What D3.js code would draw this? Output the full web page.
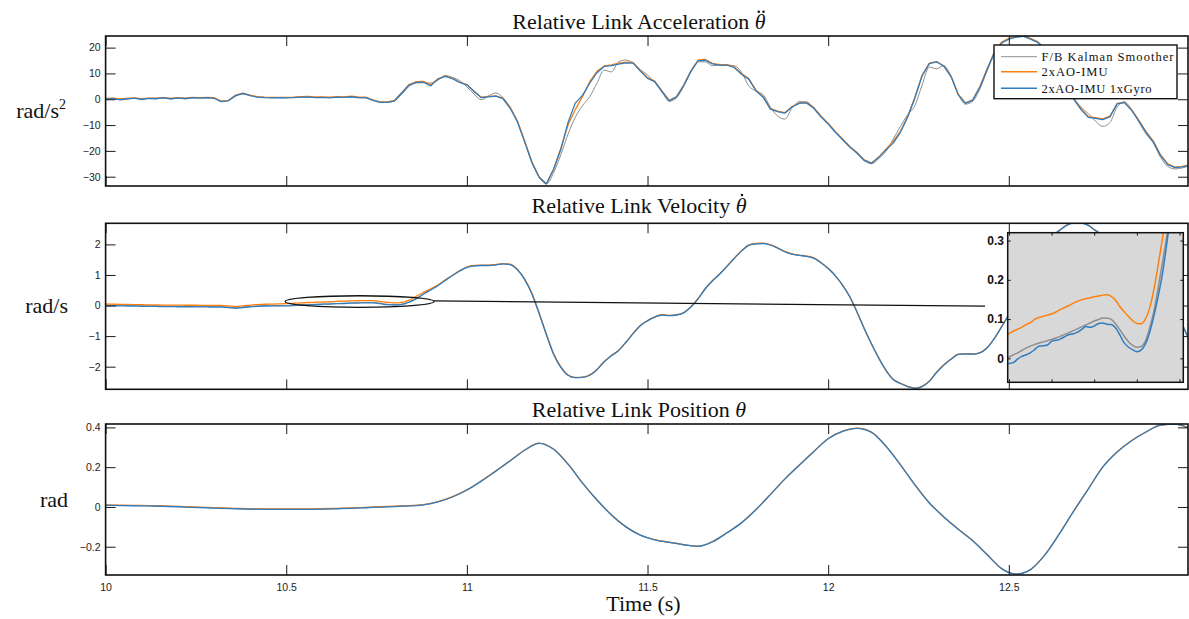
<!DOCTYPE html>
<html>
<head>
<meta charset="utf-8">
<script src="https://cdn.jsdelivr.net/npm/d3@7"></script>
<style>
  html, body { margin: 0; padding: 0; background: #fff; }
  svg { display: block; }
</style>
</head>
<body>
<svg id="chart" width="1189" height="619"></svg>
<script>
// ---------------- data ----------------
// sample times (s)
const accTime = d3.range(151).map(i => +(10 + i * 0.02).toFixed(2));
const velTime = [
  ...d3.range(24).map(i => +(10 + i * 0.02).toFixed(2)),
  ...d3.range(45).map(i => +(10.48 + i * 0.01).toFixed(2)),
  ...d3.range(104).map(i => +(10.94 + i * 0.02).toFixed(2))
];
const posTime = d3.range(76).map(i => +(10 + i * 0.04).toFixed(2));

// relative link acceleration (rad/s^2)
const accKalman = [
  0.2, 0.2, 0.2, 0.3, 0.3, 0.3, 0.3, 0.4, 0.4, 0.4,
  0.4, 0.4, 0.5, 0.5, 0.5, 0.4, -0.8, -0.4, 1.2, 2.0,
  1.5, 0.9, 0.7, 0.6, 0.6, 0.6, 0.7, 0.7, 0.7, 0.7,
  0.7, 0.7, 0.7, 0.7, 0.7, 0.6, 0.5, -0.3, -1.1, -1.2,
  -0.6, 2.0, 5.0, 6.3, 6.4, 6.3, 7.4, 9.2, 8.5, 7.2,
  4.8, 2.0, -0.2, 1.3, 2.4, 0.6, -3.3, -8.8, -16.5, -24.5,
  -30.2, -32.8, -28.5, -21.5, -13.5, -7.0, -2.5, 1.0, 6.2, 11.3,
  10.6, 14.5, 15.2, 14.0, 11.5, 9.4, 6.5, 2.8, -0.8, 0.5,
  5.0, 10.5, 14.5, 14.5, 13.0, 13.2, 13.2, 13.0, 10.5, 5.2,
  3.2, 1.8, -3.0, -6.5, -7.7, -3.5, -0.9, -1.0, -3.2, -6.5,
  -9.4, -12.6, -15.5, -18.6, -21.0, -23.8, -25.0, -23.0, -20.2, -15.5,
  -10.5, -6.0, -2.5, 5.5, 12.5, 11.8, 13.0, 9.0, 2.0, -1.9,
  -0.8, 4.0, 11.0, 17.5, 21.5, 23.3, 24.1, 24.3, 23.3, 22.0,
  19.5, 15.5, 10.5, 5.8, 0.5, -3.0, -5.5, -8.5, -10.5, -9.0,
  -3.0, -1.0, -4.0, -8.8, -13.5, -17.0, -22.5, -26.0, -27.0, -26.6,
  -25.8
];
const accImu = [
  0.3, 0.4, 0.1, 0.3, 0.5, 0.2, 0.4, 0.4, 0.6, 0.3,
  0.6, 0.4, 0.7, 0.6, 0.7, 0.6, -0.7, -0.4, 1.6, 2.4,
  1.6, 1.0, 0.8, 0.7, 0.7, 0.7, 0.8, 1.0, 1.1, 0.9,
  0.9, 0.8, 1.0, 0.9, 1.2, 0.9, 0.8, -0.2, -1.0, -1.0,
  -0.4, 2.6, 5.7, 6.8, 6.9, 5.6, 7.9, 9.1, 8.1, 6.6,
  5.7, 3.1, 0.8, 1.1, 1.3, 0.4, -3.1, -8.4, -16.2, -24.3,
  -30.1, -32.7, -27.0, -19.0, -10.0, -4.0, 1.0, 6.8, 10.8, 12.9,
  13.3, 14.0, 14.4, 14.3, 11.2, 8.4, 7.0, 3.2, -0.4, 1.0,
  5.5, 11.0, 15.2, 15.4, 13.9, 13.4, 13.4, 12.5, 10.0, 8.0,
  3.6, 1.0, -3.5, -4.6, -5.2, -2.8, -1.4, -1.2, -3.2, -6.5,
  -9.3, -12.5, -15.4, -18.3, -20.6, -23.5, -24.7, -22.4, -19.3, -16.2,
  -12.4, -6.6, 0.8, 9.4, 14.0, 14.6, 13.0, 9.0, 2.0, -1.4,
  -0.2, 4.9, 11.8, 18.3, 22.1, 23.6, 24.3, 24.6, 23.6, 22.3,
  19.8, 15.8, 10.8, 5.8, 0.3, -3.7, -6.7, -7.1, -7.6, -6.5,
  -1.6, -1.1, -4.0, -8.2, -12.5, -16.2, -21.5, -25.0, -26.3, -26.0,
  -25.4
];
const accImuGyro = [
  0.0, 0.3, -0.2, 0.1, 0.4, -0.1, 0.3, 0.2, 0.6, 0.1,
  0.5, 0.2, 0.6, 0.4, 0.6, 0.4, -0.9, -0.6, 1.4, 2.3,
  1.4, 0.8, 0.6, 0.5, 0.6, 0.5, 0.6, 0.8, 0.9, 0.6,
  0.7, 0.5, 0.8, 0.7, 1.0, 0.6, 0.6, -0.4, -1.2, -1.2,
  -0.6, 2.4, 5.5, 6.5, 6.6, 5.2, 7.8, 8.9, 8.0, 6.5,
  5.6, 3.0, 0.6, 0.9, 1.2, 0.2, -3.5, -8.8, -16.5, -24.5,
  -30.2, -32.8, -27.2, -19.5, -9.0, -1.5, 1.5, 6.2, 10.3, 12.7,
  13.0, 13.6, 14.1, 14.0, 10.9, 8.1, 6.8, 3.0, -0.6, 0.8,
  5.2, 10.8, 14.9, 15.1, 13.7, 13.2, 13.2, 12.3, 9.7, 7.8,
  3.3, 0.8, -3.8, -4.8, -5.4, -3.0, -1.6, -1.4, -3.5, -6.8,
  -9.6, -12.8, -15.7, -18.5, -20.8, -23.7, -24.8, -22.5, -19.6, -17.0,
  -12.8, -7.0, 0.5, 9.0, 13.8, 14.5, 12.8, 8.8, 1.7, -1.6,
  -0.4, 4.6, 11.5, 18.0, 21.8, 23.3, 24.1, 24.4, 23.3, 22.0,
  19.5, 15.5, 10.5, 5.5, 0.0, -4.0, -7.0, -7.4, -7.9, -6.8,
  -1.8, -1.3, -4.3, -8.5, -12.8, -16.5, -21.8, -25.3, -26.5, -26.2,
  -25.6
];

// relative link velocity (rad/s)
const velKalman = [
  0.020, 0.015, 0.010, 0.005, 0.000, -0.005, -0.010, -0.012, -0.015, -0.018,
  -0.020, -0.022, -0.024, -0.026, -0.028, -0.030, -0.032, -0.050, -0.068, -0.048,
  -0.028, -0.015, -0.008, -0.006,
  -0.005, -0.002, 0.003, 0.009, 0.014, 0.020, 0.026, 0.031, 0.035, 0.039,
  0.042, 0.045, 0.048, 0.052, 0.056, 0.061, 0.065, 0.070, 0.075, 0.080,
  0.085, 0.090, 0.095, 0.099, 0.103, 0.103, 0.099, 0.088, 0.073, 0.057,
  0.043, 0.033, 0.028, 0.030, 0.044, 0.077, 0.120, 0.180, 0.243, 0.310,
  0.380, 0.450, 0.520, 0.590, 0.660,
  0.82, 0.98, 1.13, 1.25, 1.30, 1.31, 1.31, 1.33, 1.36, 1.34,
  1.17, 0.85, 0.38, -0.26, -0.95, -1.59, -2.02, -2.28, -2.36, -2.35,
  -2.28, -2.10, -1.84, -1.64, -1.47, -1.21, -0.92, -0.66, -0.50, -0.38,
  -0.31, -0.33, -0.31, -0.24, -0.05, 0.22, 0.55, 0.81, 1.03, 1.28,
  1.54, 1.78, 1.97, 2.02, 2.03, 1.98, 1.88, 1.76, 1.68, 1.64,
  1.61, 1.55, 1.40, 1.21, 0.97, 0.66, 0.28, -0.22, -0.76, -1.26,
  -1.72, -2.12, -2.42, -2.55, -2.65, -2.71, -2.65, -2.48, -2.19, -1.95,
  -1.76, -1.60, -1.58, -1.59, -1.55, -1.38, -1.08, -0.70, -0.30, 0.12,
  0.60, 1.10, 1.60, 2.00, 2.28, 2.45, 2.62, 2.70, 2.70, 2.62,
  2.45, 2.30, 2.15, 2.05, 2.00, 1.95, 1.82, 1.60, 1.28, 0.90,
  0.42, -0.10, -0.62, -1.15
];
const velImu = [
  0.050, 0.045, 0.040, 0.035, 0.030, 0.025, 0.020, 0.018, 0.015, 0.013,
  0.012, 0.010, 0.010, 0.008, 0.006, 0.004, 0.002, -0.015, -0.030, -0.010,
  0.015, 0.030, 0.042, 0.048,
  0.052, 0.057, 0.063, 0.069, 0.074, 0.079, 0.086, 0.091, 0.099, 0.104,
  0.107, 0.110, 0.113, 0.118, 0.124, 0.129, 0.134, 0.140, 0.145, 0.149,
  0.152, 0.154, 0.157, 0.159, 0.161, 0.162, 0.158, 0.148, 0.132, 0.119,
  0.107, 0.096, 0.089, 0.088, 0.100, 0.128, 0.175, 0.238, 0.305, 0.370,
  0.430, 0.490, 0.550, 0.610, 0.670,
  0.84, 0.99, 1.14, 1.26, 1.31, 1.32, 1.32, 1.34, 1.37, 1.35,
  1.18, 0.87, 0.40, -0.24, -0.93, -1.57, -2.00, -2.27, -2.35, -2.34,
  -2.27, -2.09, -1.83, -1.63, -1.46, -1.20, -0.91, -0.65, -0.49, -0.37,
  -0.30, -0.32, -0.30, -0.23, -0.04, 0.23, 0.56, 0.82, 1.04, 1.29,
  1.55, 1.79, 1.98, 2.03, 2.04, 1.99, 1.89, 1.77, 1.69, 1.65,
  1.62, 1.56, 1.41, 1.22, 0.98, 0.67, 0.29, -0.21, -0.75, -1.25,
  -1.71, -2.11, -2.41, -2.54, -2.64, -2.70, -2.64, -2.47, -2.18, -1.94,
  -1.75, -1.59, -1.57, -1.58, -1.54, -1.37, -1.07, -0.69, -0.29, 0.13,
  0.61, 1.11, 1.61, 2.01, 2.29, 2.46, 2.63, 2.71, 2.71, 2.63,
  2.46, 2.31, 2.16, 2.06, 2.01, 1.96, 1.83, 1.61, 1.29, 0.91,
  0.43, -0.09, -0.61, -1.14
];
const velImuGyro = [
  0.000, -0.005, -0.010, -0.015, -0.020, -0.025, -0.030, -0.030, -0.035, -0.035,
  -0.040, -0.040, -0.040, -0.045, -0.045, -0.050, -0.050, -0.070, -0.090, -0.065,
  -0.040, -0.025, -0.015, -0.012,
  -0.012, -0.013, -0.013, -0.011, -0.002, 0.005, 0.009, 0.014, 0.022, 0.031,
  0.032, 0.034, 0.043, 0.046, 0.049, 0.055, 0.060, 0.062, 0.066, 0.073,
  0.081, 0.079, 0.082, 0.089, 0.090, 0.087, 0.086, 0.078, 0.060, 0.040,
  0.029, 0.022, 0.017, 0.021, 0.036, 0.066, 0.108, 0.158, 0.215, 0.290,
  0.370, 0.440, 0.510, 0.580, 0.650,
  0.82, 0.98, 1.13, 1.25, 1.30, 1.31, 1.31, 1.33, 1.36, 1.34,
  1.17, 0.85, 0.38, -0.26, -0.95, -1.59, -2.02, -2.28, -2.36, -2.35,
  -2.28, -2.10, -1.84, -1.64, -1.47, -1.21, -0.92, -0.66, -0.50, -0.38,
  -0.31, -0.33, -0.31, -0.24, -0.05, 0.22, 0.55, 0.81, 1.03, 1.28,
  1.54, 1.78, 1.97, 2.02, 2.03, 1.98, 1.88, 1.76, 1.68, 1.64,
  1.61, 1.55, 1.40, 1.21, 0.97, 0.66, 0.28, -0.22, -0.76, -1.26,
  -1.72, -2.12, -2.42, -2.55, -2.65, -2.71, -2.65, -2.48, -2.19, -1.95,
  -1.76, -1.60, -1.58, -1.59, -1.55, -1.38, -1.08, -0.70, -0.30, 0.12,
  0.60, 1.10, 1.60, 2.00, 2.28, 2.45, 2.62, 2.70, 2.70, 2.62,
  2.45, 2.30, 2.15, 2.05, 2.00, 1.95, 1.82, 1.60, 1.28, 0.90,
  0.42, -0.10, -0.62, -1.15
];

// relative link position (rad)
const posKalman = [
  0.009, 0.008, 0.007, 0.006, 0.004, 0.002, -0.001, -0.003, -0.006, -0.008,
  -0.010, -0.011, -0.011, -0.011, -0.011, -0.010, -0.008, -0.006, -0.003, 0.000,
  0.003, 0.006, 0.011, 0.026, 0.051, 0.085, 0.130, 0.180, 0.232, 0.285,
  0.320, 0.290, 0.215, 0.120, 0.035, -0.040, -0.100, -0.142, -0.165, -0.178,
  -0.190, -0.198, -0.175, -0.130, -0.080, -0.014, 0.062, 0.140, 0.210, 0.278,
  0.343, 0.380, 0.395, 0.375, 0.305, 0.212, 0.111, 0.020, -0.050, -0.112,
  -0.170, -0.240, -0.310, -0.338, -0.315, -0.241, -0.135, -0.020, 0.090, 0.200,
  0.276, 0.333, 0.377, 0.411, 0.416, 0.395
];
const posImu = [
  0.010, 0.009, 0.008, 0.007, 0.005, 0.003, 0.000, -0.002, -0.005, -0.007,
  -0.009, -0.010, -0.010, -0.010, -0.010, -0.009, -0.007, -0.005, -0.002, 0.001,
  0.004, 0.007, 0.012, 0.027, 0.052, 0.086, 0.131, 0.181, 0.233, 0.286,
  0.321, 0.291, 0.216, 0.121, 0.036, -0.039, -0.099, -0.141, -0.164, -0.177,
  -0.189, -0.197, -0.174, -0.129, -0.079, -0.013, 0.063, 0.141, 0.211, 0.279,
  0.344, 0.381, 0.396, 0.376, 0.306, 0.213, 0.112, 0.021, -0.049, -0.111,
  -0.169, -0.239, -0.309, -0.337, -0.314, -0.240, -0.134, -0.019, 0.091, 0.201,
  0.277, 0.334, 0.378, 0.412, 0.417, 0.396
];
const posImuGyro = [
  0.008, 0.007, 0.006, 0.005, 0.003, 0.001, -0.002, -0.004, -0.007, -0.009,
  -0.011, -0.012, -0.012, -0.012, -0.012, -0.011, -0.009, -0.007, -0.004, -0.001,
  0.002, 0.005, 0.010, 0.025, 0.050, 0.085, 0.130, 0.180, 0.232, 0.285,
  0.320, 0.290, 0.215, 0.120, 0.035, -0.040, -0.100, -0.142, -0.165, -0.178,
  -0.190, -0.198, -0.175, -0.130, -0.080, -0.014, 0.062, 0.140, 0.210, 0.278,
  0.343, 0.380, 0.395, 0.375, 0.305, 0.212, 0.111, 0.020, -0.050, -0.112,
  -0.170, -0.240, -0.310, -0.338, -0.315, -0.241, -0.135, -0.020, 0.090, 0.200,
  0.276, 0.333, 0.377, 0.411, 0.416, 0.395
];

// axis ticks
const timeTicks = [10, 10.5, 11, 11.5, 12, 12.5];
const accTicks = [-30, -20, -10, 0, 10, 20];
const velTicks = [-2, -1, 0, 1, 2];
const posTicks = [-0.2, 0, 0.2, 0.4];
const zoomTimeTicks = [10.5, 10.6, 10.7, 10.8, 10.9];
const zoomVelTicks = [0, 0.1, 0.2, 0.3];

const seriesNames = ["F/B Kalman Smoother", "2xAO-IMU", "2xAO-IMU 1xGyro"];
const seriesColors = ["#8e8e8e", "#ff7f0e", "#2f7dc1"];

// ---------------- layout ----------------
const svg = d3.select("#chart");
const plotLeft = 105.6, plotRight = 1188;
const x = d3.scaleLinear().domain([10, 12.996]).range([plotLeft, plotRight]);

const panels = [
  { id: "acc", top: 36, bottom: 186, domain: [-33.6, 24.5], ticks: accTicks,
    fmt: d3.format("d"), time: accTime, series: [accKalman, accImu, accImuGyro],
    title: "Relative Link Acceleration ", dots: 2, titleY: 29.3,
    unit: ["rad/s", "2"], unitX: 66, curves: [d3.curveMonotoneX, d3.curveLinear, d3.curveLinear] },
  { id: "vel", top: 223.3, bottom: 389.3, domain: [-2.74, 2.69], ticks: velTicks,
    fmt: d3.format("d"), time: velTime, series: [velKalman, velImu, velImuGyro],
    title: "Relative Link Velocity ", dots: 1, titleY: 212.7,
    unit: ["rad/s"], unitX: 68, curves: [d3.curveMonotoneX, d3.curveMonotoneX, d3.curveMonotoneX] },
  { id: "pos", top: 424, bottom: 575, domain: [-0.342, 0.417], ticks: posTicks,
    fmt: d3.format(".1~f"), time: posTime, series: [posKalman, posImu, posImuGyro],
    title: "Relative Link Position ", dots: 0, titleY: 417.3,
    unit: ["rad"], unitX: 68, curves: [d3.curveMonotoneX, d3.curveMonotoneX, d3.curveMonotoneX] }
];

const serif = "'Liberation Serif', 'DejaVu Serif', serif";
const sans = "'Liberation Sans', Arial, sans-serif";
const defs = svg.append("defs");

function styleAxis(g, fontSize, weight) {
  g.select(".domain").remove();
  g.attr("font-family", sans).attr("font-size", fontSize);
  g.selectAll(".tick line").attr("stroke", "#1a1a1a").attr("stroke-width", 1);
  g.selectAll(".tick text").attr("fill", "#222").attr("font-weight", weight || "normal");
}

panels.forEach((p, pi) => {
  const y = d3.scaleLinear().domain(p.domain).range([p.bottom, p.top]);
  p.y = y;
  const g = svg.append("g").attr("class", "panel-" + p.id);

  defs.append("clipPath").attr("id", "clip-" + p.id)
    .append("rect").attr("x", plotLeft).attr("y", p.top)
    .attr("width", plotRight - plotLeft).attr("height", p.bottom - p.top);

  // data lines
  const lines = g.append("g").attr("clip-path", `url(#clip-${p.id})`);
  p.series.forEach((vals, si) => {
    const pts = p.time.map((t, i) => [t, vals[i]]);
    lines.append("path")
      .attr("fill", "none")
      .attr("stroke", seriesColors[si])
      .attr("stroke-width", si === 0 ? 1.0 : 1.3)
      .attr("stroke-linejoin", "round")
      .attr("d", d3.line().x(d => x(d[0])).y(d => y(d[1])).curve(p.curves[si])(pts));
  });

  // ticks on all four sides, pointing inward
  styleAxis(g.append("g").attr("transform", `translate(${plotLeft},0)`)
    .call(d3.axisLeft(y).tickValues(p.ticks).tickSize(-10).tickPadding(5).tickFormat(p.fmt)), 10.5);
  styleAxis(g.append("g").attr("transform", `translate(${plotRight},0)`)
    .call(d3.axisRight(y).tickValues(p.ticks).tickSize(-10).tickFormat("")), 10.5);
  styleAxis(g.append("g").attr("transform", `translate(0,${p.top})`)
    .call(d3.axisTop(x).tickValues(timeTicks).tickSize(-10).tickFormat("")), 10.5);
  styleAxis(g.append("g").attr("transform", `translate(0,${p.bottom})`)
    .call(d3.axisBottom(x).tickValues(timeTicks).tickSize(-10).tickPadding(8.5)
      .tickFormat(pi === 2 ? d3.format("~g") : "")), 10.5);

  // frame
  g.append("rect").attr("x", plotLeft).attr("y", p.top)
    .attr("width", plotRight - plotLeft).attr("height", p.bottom - p.top)
    .attr("fill", "none").attr("stroke", "#111").attr("stroke-width", 1.6);

  // title, with time-derivative dots over the italic theta
  const title = g.append("text").attr("x", 639).attr("y", p.titleY)
    .attr("text-anchor", "middle").attr("font-family", serif)
    .attr("font-size", 22).attr("fill", "#111");
  title.append("tspan").text(p.title);
  title.append("tspan").attr("font-style", "italic").text("\u03B8");
  if (p.dots > 0) {
    const node = title.node();
    const ext = node.getExtentOfChar(node.getNumberOfChars() - 1);
    const cx = ext.x + ext.width * 0.58;
    const cy = p.titleY - 17.6;
    const offs = p.dots === 2 ? [-2.4, 2.4] : [0];
    offs.forEach(o => g.append("circle").attr("cx", cx + o).attr("cy", cy)
      .attr("r", 1.25).attr("fill", "#111"));
  }

  // unit label
  const unit = g.append("text").attr("x", p.unitX).attr("y", (p.top + p.bottom) / 2 + 7)
    .attr("text-anchor", "end").attr("font-family", serif)
    .attr("font-size", 22).attr("fill", "#111");
  unit.append("tspan").text(p.unit[0]);
  if (p.unit[1]) unit.append("tspan").attr("dy", -9).attr("font-size", 14).text(p.unit[1]);
});

// x axis label
svg.append("text").attr("x", 643.5).attr("y", 611)
  .attr("text-anchor", "middle").attr("font-family", serif)
  .attr("font-size", 22).attr("fill", "#111").text("Time (s)");

// ---------------- zoom of the velocity panel ----------------
const velY = panels[1].y;
const zoomT = [10.497, 10.909];
const zoomV = [-0.061, 0.32];
const zx = d3.scaleLinear().domain(zoomT).range([1007.7, 1183.3]);
const zy = d3.scaleLinear().domain(zoomV).range([382.3, 232.7]);

// ellipse marking the zoomed window, plus a leader line
const ann = svg.append("g");
ann.append("ellipse")
  .attr("cx", x((zoomT[0] + zoomT[1]) / 2))
  .attr("cy", velY((zoomV[0] + zoomV[1]) / 2))
  .attr("rx", (x(zoomT[1]) - x(zoomT[0])) / 2)
  .attr("ry", Math.abs(velY(zoomV[1]) - velY(zoomV[0])) / 2)
  .attr("fill", "none").attr("stroke", "#111").attr("stroke-width", 1.3);
ann.append("line")
  .attr("x1", x(zoomT[1])).attr("y1", velY(0.15))
  .attr("x2", zx.range()[0] - 22.7).attr("y2", velY(-0.02))
  .attr("stroke", "#111").attr("stroke-width", 1.2);

const inset = svg.append("g").attr("class", "inset");
inset.append("rect").attr("x", zx.range()[0]).attr("y", zy.range()[1])
  .attr("width", zx.range()[1] - zx.range()[0]).attr("height", zy.range()[0] - zy.range()[1])
  .attr("fill", "#d8d8d8");
defs.append("clipPath").attr("id", "clip-inset")
  .append("rect").attr("x", zx.range()[0]).attr("y", zy.range()[1])
  .attr("width", zx.range()[1] - zx.range()[0]).attr("height", zy.range()[0] - zy.range()[1]);
const insetLines = inset.append("g").attr("clip-path", "url(#clip-inset)");
panels[1].series.forEach((vals, si) => {
  const pts = velTime.map((t, i) => [t, vals[i]]).filter(d => d[0] >= 10.46 && d[0] <= 10.94);
  insetLines.append("path")
    .attr("fill", "none").attr("stroke", seriesColors[si])
    .attr("stroke-width", 1.5)
    .attr("d", d3.line().x(d => zx(d[0])).y(d => zy(d[1])).curve(d3.curveMonotoneX)(pts));
});
styleAxis(inset.append("g").attr("transform", `translate(${zx.range()[0]},0)`)
  .call(d3.axisLeft(zy).tickValues(zoomVelTicks).tickSize(-3).tickPadding(3.7).tickFormat(d3.format(".1~f"))), 12, "bold");
styleAxis(inset.append("g").attr("transform", `translate(${zx.range()[1]},0)`)
  .call(d3.axisRight(zy).tickValues(zoomVelTicks).tickSize(-3).tickFormat("")), 12);
styleAxis(inset.append("g").attr("transform", `translate(0,${zy.range()[1]})`)
  .call(d3.axisTop(zx).tickValues(zoomTimeTicks).tickSize(-3).tickFormat("")), 12);
styleAxis(inset.append("g").attr("transform", `translate(0,${zy.range()[0]})`)
  .call(d3.axisBottom(zx).tickValues(zoomTimeTicks).tickSize(-3).tickFormat("")), 12);
inset.selectAll(".tick text").attr("fill", "#111");
inset.append("rect").attr("x", zx.range()[0]).attr("y", zy.range()[1])
  .attr("width", zx.range()[1] - zx.range()[0]).attr("height", zy.range()[0] - zy.range()[1])
  .attr("fill", "none").attr("stroke", "#111").attr("stroke-width", 1.5);

// ---------------- legend ----------------
const legend = svg.append("g").attr("class", "legend");
legend.append("rect").attr("x", 994).attr("y", 45).attr("width", 183).attr("height", 53.7)
  .attr("fill", "#fff").attr("stroke", "#111").attr("stroke-width", 1.4);
const legendRows = [56.7, 71.7, 88.3];
const legendWidths = [132, 66, 110];
seriesNames.forEach((name, i) => {
  legend.append("line").attr("x1", 1001).attr("x2", 1037)
    .attr("y1", legendRows[i]).attr("y2", legendRows[i])
    .attr("stroke", seriesColors[i]).attr("stroke-width", i === 0 ? 1 : 1.6);
  legend.append("text").attr("x", 1041.5).attr("y", legendRows[i] + 4.3)
    .attr("font-family", serif).attr("font-size", 12.5).attr("fill", "#111")
    .attr("textLength", legendWidths[i]).attr("lengthAdjust", "spacing")
    .text(name);
});
</script>
</body>
</html>
